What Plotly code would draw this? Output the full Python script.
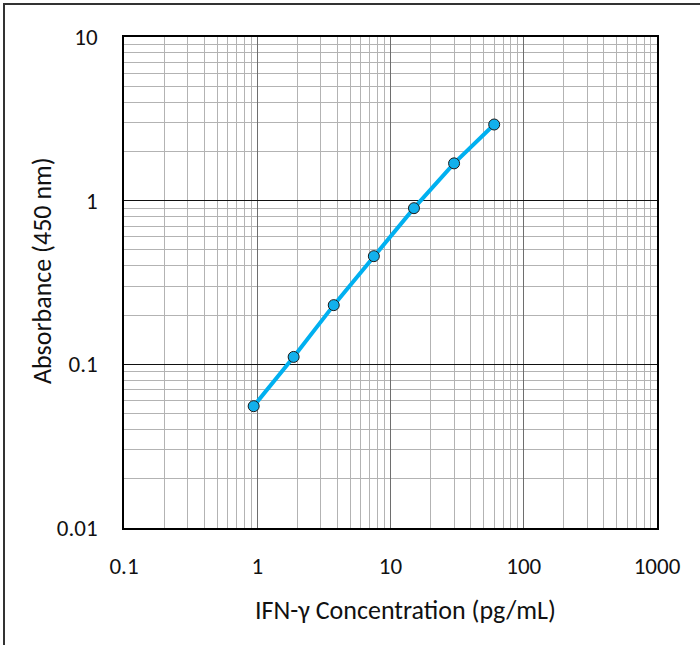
import plotly.graph_objects as go

conc = [0.94, 1.875, 3.75, 7.5, 15, 30, 60]
absorb = [0.0555, 0.111, 0.230, 0.458, 0.90, 1.69, 2.92]

x_ticks = [0.1, 1, 10, 100, 1000]
x_tick_text = ["0.1", "1", "10", "100", "1000"]
y_ticks = [0.01, 0.1, 1, 10]
y_tick_text = ["0.01", "0.1", "1", "10"]
x_title = "IFN-γ Concentration (pg/mL)"
y_title = "Absorbance (450 nm)"

W, H = 700, 645
L, R, T, B = 124, 43, 37, 117
pw, ph = W - L - R, H - T - B

fig = go.Figure()
fig.add_trace(go.Scatter(
    x=conc, y=absorb, mode="lines+markers",
    line=dict(color="#00B0F0", width=4),
    marker=dict(size=11, color="#12B0EC", line=dict(color="#1a1a1a", width=1)),
    showlegend=False,
))

font = "Carlito, Lato, Open Sans, sans-serif"
TICK = 23
TITLE = 26
fig.update_layout(
    width=W, height=H,
    margin=dict(l=L, r=R, t=T, b=B),
    paper_bgcolor="white", plot_bgcolor="white",
    font=dict(family=font, size=TICK, color="#111"),
    xaxis=dict(
        type="log", range=[-1, 3],
        tickvals=x_ticks, ticktext=x_tick_text,
        tickfont=dict(size=TICK, color="#111"),
        showgrid=True, gridcolor="#6e6e6e", gridwidth=1,
        minor=dict(showgrid=True, gridcolor="#b3b3b3", gridwidth=1, dtick="D1", ticks=""),
        showline=True, linecolor="black", linewidth=1.5, mirror=True,
        ticks="outside", ticklen=17, tickcolor="rgba(0,0,0,0)",
        zeroline=False,
    ),
    yaxis=dict(
        type="log", range=[-2, 1],
        tickvals=y_ticks, ticktext=y_tick_text,
        tickfont=dict(size=TICK, color="#111"),
        showgrid=True, gridcolor="#111111", gridwidth=1,
        minor=dict(showgrid=True, gridcolor="#b3b3b3", gridwidth=1, dtick="D1", ticks=""),
        showline=True, linecolor="black", linewidth=1.5, mirror=True,
        ticks="outside", ticklen=20, tickcolor="rgba(0,0,0,0)",
        zeroline=False,
    ),
    annotations=[
        dict(text=x_title, xref="paper", yref="paper",
             x=(405 - L) / pw, y=-(610 - (T + ph)) / ph,
             xanchor="center", yanchor="middle", showarrow=False,
             font=dict(size=TITLE, family=font, color="#111")),
        dict(text=y_title, xref="paper", yref="paper",
             x=(42 - L) / pw, y=((T + ph) - 271) / ph,
             xanchor="center", yanchor="middle", showarrow=False, textangle=-90,
             font=dict(size=TITLE, family=font, color="#111")),
    ],
)

# outer chart border
fig.add_shape(
    type="rect", xref="paper", yref="paper",
    x0=(4 - L) / pw, x1=(W + 5 - L) / pw,
    y0=-(H + 5 - T - ph) / ph, y1=1 + (T - 4) / ph,
    line=dict(color="#333333", width=2), fillcolor="rgba(0,0,0,0)",
    layer="below",
)

fig.write_html("out.html", config={"displayModeBar": False},
               post_script="document.body.style.margin='0';")
